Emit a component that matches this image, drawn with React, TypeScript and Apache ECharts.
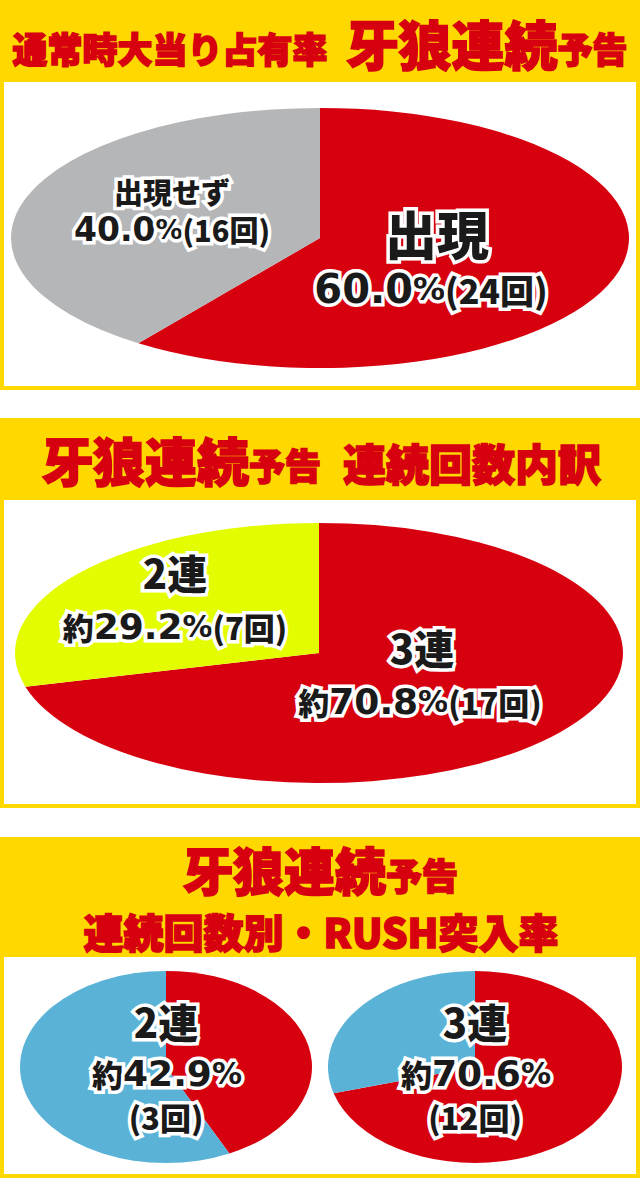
import React, { useEffect, useRef } from 'react';
import * as echarts from 'echarts';

// ---- data ----
const occNames = ['出現', '出現せず'];
const occCounts = [24, 16];
const chainNames = ['3連', '2連'];
const chainCounts = [17, 7];
const rushNames = ['2連', '3連'];
const rushEntered = [3, 12];
const rushMissed = [4, 5];

const title1 = ['通常時大当り占有率', '牙狼連続', '予告'];
const title2 = ['牙狼連続', '予告', '連続回数内訳'];
const title3 = ['牙狼連続', '予告', '連続回数別・RUSH突入率'];

// ---- styles ----
const RED = '#d7000f';
const GRAY = '#b5b6b8';
const LIME = '#e3fd00';
const BLUE = '#5ab3d7';
const YELLOW = '#ffd800';
const INK = '#1a1a1a';
const JP = "'Noto Sans CJK JP', 'Noto Sans', sans-serif";
const NUM = "'DejaVu Sans', 'Noto Sans', sans-serif";

const pct = (v: number, arr: number[]) =>
  ((v / arr.reduce((a, b) => a + b, 0)) * 100).toFixed(1);

function ellipsePie(id: string, values: number[], colors: string[], cx: number, cy: number, rx: number, ry: number) {
  const total = values.reduce((a, b) => a + b, 0);
  return {
    type: 'custom',
    id,
    coordinateSystem: 'none',
    silent: true,
    z: 5,
    data: values.map((v) => [v]),
    renderItem: (params: any, api: any) => {
      const i = params.dataIndex;
      let before = 0;
      for (let k = 0; k < i; k++) before += values[k];
      const v = api.value(0);
      const a0 = -Math.PI / 2 + (before / total) * Math.PI * 2;
      const a1 = -Math.PI / 2 + ((before + v) / total) * Math.PI * 2;
      return {
        type: 'sector',
        x: cx,
        y: cy,
        scaleX: 1,
        scaleY: ry / rx,
        shape: { cx: 0, cy: 0, r: rx, r0: 0, startAngle: a0, endAngle: a1, clockwise: true },
        style: { fill: colors[i] },
      };
    },
  };
}

const labelBase = {
  fill: INK,
  stroke: '#ffffff',
  lineWidth: 7,
  align: 'center',
  verticalAlign: 'middle',
  fontFamily: JP,
  fontWeight: 900,
};

function label(x: number, y: number, text: string, rich: any, fontSize = 30) {
  return {
    type: 'text',
    z: 50,
    x,
    y,
    style: { ...labelBase, text, rich, fontSize },
  };
}

const richSet = (num: number, p: number, k: number, t: number) => ({
  n: { fontFamily: NUM, fontWeight: 'bold', fontSize: num },
  p: { fontFamily: NUM, fontWeight: 'bold', fontSize: p },
  k: { fontFamily: JP, fontWeight: 900, fontSize: k },
  y: { fontFamily: JP, fontWeight: 900, fontSize: k },
  t: { fontFamily: JP, fontWeight: 900, fontSize: t },
});

function panelBox(top: number, headerBottom: number, bottom: number) {
  return [
    { type: 'rect', z: 0, shape: { x: 0, y: top, width: 640, height: bottom - top }, style: { fill: YELLOW } },
    { type: 'rect', z: 1, shape: { x: 4, y: headerBottom, width: 632, height: bottom - headerBottom - 4 }, style: { fill: '#ffffff' } },
  ];
}

const titleStyle = {
  fill: RED,
  stroke: RED,
  lineWidth: 1.6,
  align: 'center',
  verticalAlign: 'middle',
  fontFamily: JP,
  fontWeight: 900,
};

const tok = (fontSize: number, extra: any = {}) => ({
  fontSize, fill: RED, stroke: RED, lineWidth: 1.6, fontFamily: JP, fontWeight: 900, ...extra,
});

export default function App() {
  const ref = useRef<HTMLDivElement>(null);
  useEffect(() => {
    document.body.style.margin = '0';
    const chart = echarts.init(ref.current!, null, { renderer: 'svg' });

    const r1 = richSet(33, 27, 29, 29);
    const r1b = richSet(40, 32, 34, 52);
    const r2 = richSet(36, 30, 31, 40);

    const graphics: any[] = [
      ...panelBox(0, 82, 390),
      ...panelBox(418, 500, 808),
      ...panelBox(837, 957, 1178),
      {
        type: 'text', z: 3, x: 320, y: 43,
        style: {
          ...titleStyle,
          text: `{s|${title1[0]}}{g|}{b|${title1[1]}}{s|${title1[2]}}`,
          rich: {
            s: tok(35, { padding: [9, 0, 0, 0] }),
            g: { width: 18 },
            b: tok(53),
          },
        },
      },
      {
        type: 'text', z: 3, x: 321, y: 459,
        style: {
          ...titleStyle,
          text: `{b|${title2[0]}}{s|${title2[1]}}{g|}{m|${title2[2]}}`,
          rich: {
            s: tok(36, { padding: [10, 0, 0, 0] }),
            g: { width: 22 },
            b: tok(52),
            m: tok(43, { padding: [6, 0, 0, 0] }),
          },
        },
      },
      {
        type: 'text', z: 3, x: 320, y: 869,
        style: {
          ...titleStyle,
          text: `{b|${title3[0]}}{s|${title3[1]}}`,
          rich: {
            s: tok(36, { padding: [10, 0, 0, 0] }),
            b: tok(51),
          },
        },
      },
      {
        type: 'text', z: 3, x: 321, y: 931,
        style: { ...titleStyle, text: title3[2], fontSize: 40 },
      },
      // panel 1 labels
      label(172, 191, `{t|${occNames[1]}}`, r1),
      label(172, 229, `{n|${pct(occCounts[1], occCounts)}}{p|%}{k|(${occCounts[1]}回)}`, r1),
      label(437, 232, `{t|${occNames[0]}}`, r1b),
      label(431, 289, `{n|${pct(occCounts[0], occCounts)}}{p|%}{k|(${occCounts[0]}回)}`, r1b),
      // panel 2 labels
      label(175, 572, `{t|${chainNames[1]}}`, r2),
      label(175, 626, `{y|約}{n|${pct(chainCounts[1], chainCounts)}}{p|%}{k|(${chainCounts[1]}回)}`, r2),
      label(422, 647, `{t|${chainNames[0]}}`, r2),
      label(420, 701, `{y|約}{n|${pct(chainCounts[0], chainCounts)}}{p|%}{k|(${chainCounts[0]}回)}`, r2),
    ];

    const rushCenters = [166, 475];
    rushNames.forEach((nm, i) => {
      const arr = [rushEntered[i], rushMissed[i]];
      graphics.push(label(rushCenters[i], 1021, `{t|${nm}}`, r2));
      graphics.push(label(rushCenters[i] + 1, 1073, `{y|約}{n|${pct(rushEntered[i], arr)}}{p|%}`, r2));
      graphics.push(label(rushCenters[i], 1116, `{k|(${rushEntered[i]}回)}`, r2));
    });

    chart.setOption({
      animation: false,
      backgroundColor: '#ffffff',
      graphic: { elements: graphics },
      series: [
        ellipsePie('p1', occCounts, [RED, GRAY], 320, 238, 309, 130),
        ellipsePie('p2', chainCounts, [RED, LIME], 319, 653, 304, 130),
        ellipsePie('p3a', [rushEntered[0], rushMissed[0]], [RED, BLUE], 166, 1067, 146, 96),
        ellipsePie('p3b', [rushEntered[1], rushMissed[1]], [RED, BLUE], 475, 1067, 147, 96),
      ],
    });
    return () => chart.dispose();
  }, []);
  return <div ref={ref} style={{ width: 640, height: 1180 }} />;
}
